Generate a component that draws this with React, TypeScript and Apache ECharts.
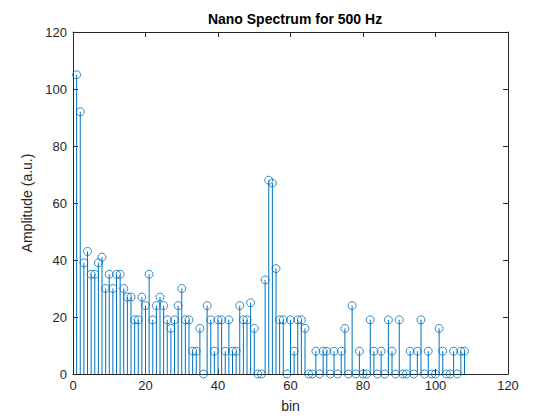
import { useEffect, useRef } from "react";
import * as echarts from "echarts";

// amplitude of each bin, bin 1 .. 108
const amplitudes = [
  105, 92, 39, 43, 35, 35, 39, 41, 30, 35,
  30, 35, 35, 30, 27, 27, 19, 19, 27, 24,
  35, 19, 24, 27, 24, 19, 16, 19, 24, 30,
  19, 19, 8, 8, 16, 0, 24, 19, 8, 19,
  19, 8, 19, 8, 8, 24, 19, 19, 25, 16,
  0, 0, 33, 68, 67, 37, 19, 19, 0, 19,
  8, 19, 19, 16, 0, 0, 8, 0, 8, 8,
  0, 8, 0, 8, 16, 0, 24, 0, 8, 0,
  0, 19, 8, 0, 8, 0, 19, 8, 0, 19,
  0, 0, 8, 0, 8, 19, 0, 8, 0, 0,
  16, 8, 0, 0, 8, 0, 8, 8,
];

const xTicks = [0, 20, 40, 60, 80, 100, 120];
const yTicks = [0, 20, 40, 60, 80, 100, 120];

const TEXT = "#262626";
const STEM = "#0072BD";
const FONT = "Arial, 'Liberation Sans', Helvetica, sans-serif";

export default function App() {
  const chartRef = useRef<HTMLDivElement>(null);

  useEffect(() => {
    if (!chartRef.current) return;
    const chart = echarts.init(chartRef.current, undefined, { renderer: "svg" });

    const points = amplitudes.map((a, i) => [i + 1, a]);

    const axisLine = { show: true, onZero: false, lineStyle: { color: TEXT, width: 1 } };
    const tickIn = { show: true, inside: true, length: 5, lineStyle: { color: TEXT, width: 1 } };

    chart.setOption({
      animation: false,
      backgroundColor: "#ffffff",
      textStyle: { fontFamily: FONT },
      title: {
        text: "Nano Spectrum for 500 Hz",
        left: 290,
        top: 7,
        textAlign: "center",
        textStyle: { color: "#000000", fontSize: 14, fontWeight: "bold", fontFamily: FONT },
      },
      grid: { left: 73, right: 52, top: 32, bottom: 46 },
      xAxis: [
        {
          type: "value",
          min: xTicks[0],
          max: xTicks[xTicks.length - 1],
          interval: 20,
          position: "bottom",
          name: "bin",
          nameLocation: "middle",
          nameGap: 25,
          nameTextStyle: { color: TEXT, fontSize: 14, fontFamily: FONT },
          axisLine,
          axisTick: tickIn,
          splitLine: { show: false },
          axisLabel: { color: TEXT, fontSize: 13, margin: 5, fontFamily: FONT },
        },
        {
          type: "value",
          min: xTicks[0],
          max: xTicks[xTicks.length - 1],
          interval: 20,
          position: "top",
          axisLine,
          axisTick: tickIn,
          splitLine: { show: false },
          axisLabel: { show: false },
        },
      ],
      yAxis: [
        {
          type: "value",
          min: yTicks[0],
          max: yTicks[yTicks.length - 1],
          interval: 20,
          position: "left",
          name: "Amplitude (a.u.)",
          nameLocation: "middle",
          nameGap: 34,
          nameTextStyle: { color: TEXT, fontSize: 14, fontFamily: FONT },
          axisLine,
          axisTick: tickIn,
          splitLine: { show: false },
          axisLabel: { color: TEXT, fontSize: 13, margin: 6, fontFamily: FONT },
        },
        {
          type: "value",
          min: yTicks[0],
          max: yTicks[yTicks.length - 1],
          interval: 20,
          position: "right",
          axisLine,
          axisTick: tickIn,
          splitLine: { show: false },
          axisLabel: { show: false },
        },
      ],
      series: [
        {
          type: "custom",
          xAxisIndex: 0,
          yAxisIndex: 0,
          data: points,
          // eslint-disable-next-line @typescript-eslint/no-explicit-any
          renderItem: (_params: any, api: any) => {
            const x = api.value(0);
            const y = api.value(1);
            const p0 = api.coord([x, 0]);
            const p1 = api.coord([x, y]);
            return {
              type: "line",
              shape: { x1: p0[0], y1: p0[1], x2: p1[0], y2: p1[1] },
              style: { stroke: STEM, lineWidth: 1 },
            };
          },
          z: 2,
        },
        {
          type: "scatter",
          xAxisIndex: 0,
          yAxisIndex: 0,
          data: points,
          symbol: "circle",
          symbolSize: 8,
          itemStyle: { color: "transparent", borderColor: STEM, borderWidth: 1 },
          z: 3,
        },
      ],
    });

    return () => {
      chart.dispose();
    };
  }, []);

  return (
    <div
      ref={chartRef}
      style={{ position: "absolute", left: 0, top: 0, width: 560, height: 420 }}
    />
  );
}
